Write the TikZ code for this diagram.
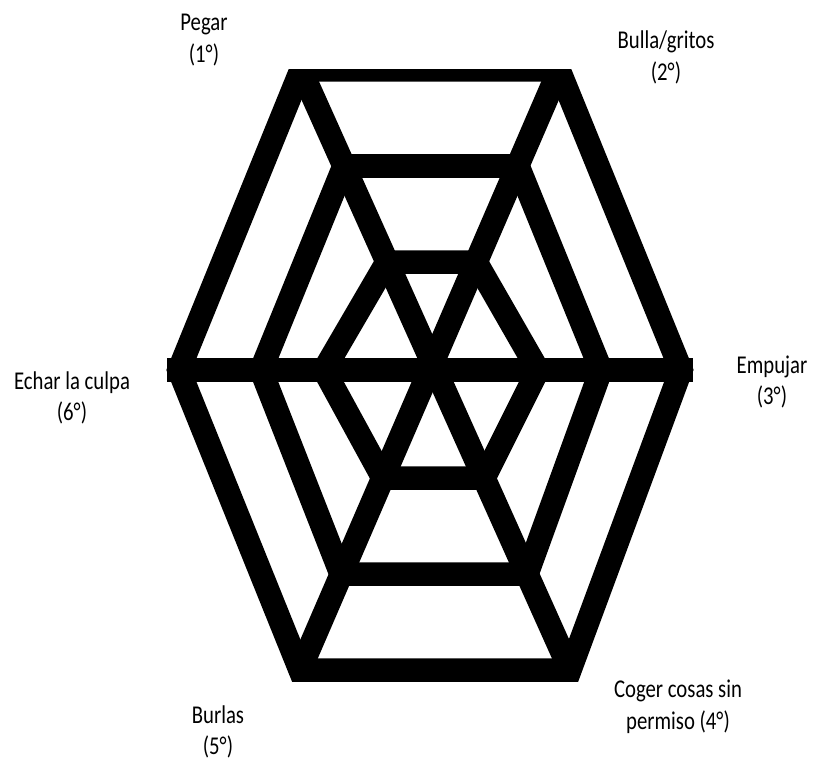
\documentclass[tikz,border=0pt]{standalone}
\usepackage{fontspec}
\setmainfont{Carlito}[FakeStretch=0.81]
\begin{document}
\begin{tikzpicture}[x=1pt,y=-1pt,
  web/.style={line width=23.5pt, line join=miter, draw=black},
  lab/.style={align=center, inner sep=0pt, font=\fontsize{25.6}{31.7}\selectfont}]
\useasboundingbox (0,0) rectangle (814,765);
\fill[white] (0,0) rectangle (814,765);
% outer hexagon
\coordinate (o1) at (301,70);  \coordinate (o2) at (559,70);
\coordinate (o3) at (681,370); \coordinate (o4) at (570,670);
\coordinate (o5) at (300,670); \coordinate (o6) at (179,370);
% middle hexagon
\coordinate (m1) at (344,166); \coordinate (m2) at (518,166);
\coordinate (m3) at (601,370); \coordinate (m4) at (527,574);
\coordinate (m5) at (341,574); \coordinate (m6) at (261,370);
% inner hexagon
\coordinate (i1) at (387,262); \coordinate (i2) at (476,262);
\coordinate (i3) at (538,370); \coordinate (i4) at (484,478);
\coordinate (i5) at (383,478); \coordinate (i6) at (324,370);
\begin{scope}
  \clip (0,70) rectangle (814,765);
  \draw[web] (o1)--(o2)--(o3)--(o4)--(o5)--(o6)--cycle;
  \draw[web] (m1)--(m2)--(m3)--(m4)--(m5)--(m6)--cycle;
  \draw[web] (i1)--(i2)--(i3)--(i4)--(i5)--(i6)--cycle;
  \draw[web] (o1)--(o4);
  \draw[web] (o2)--(o5);
  \draw[web, line cap=rect] (o6)--(o3);
\end{scope}
\node[lab] (l1) at (204,40)  {Pegar\\(1°)};
\node[lab] (l2) at (666,57.5) {Bulla/gritos\\(2°)};
\node[lab] (l3) at (772,382) {Empujar\\(3°)};
\node[lab] (l4) at (678,707) {Coger cosas sin\\permiso (4°)};
\node[lab] (l5) at (218,732) {Burlas\\(5°)};
\node[lab] (l6) at (72,398)  {Echar la culpa\\(6°)};
\end{tikzpicture}
\end{document}
